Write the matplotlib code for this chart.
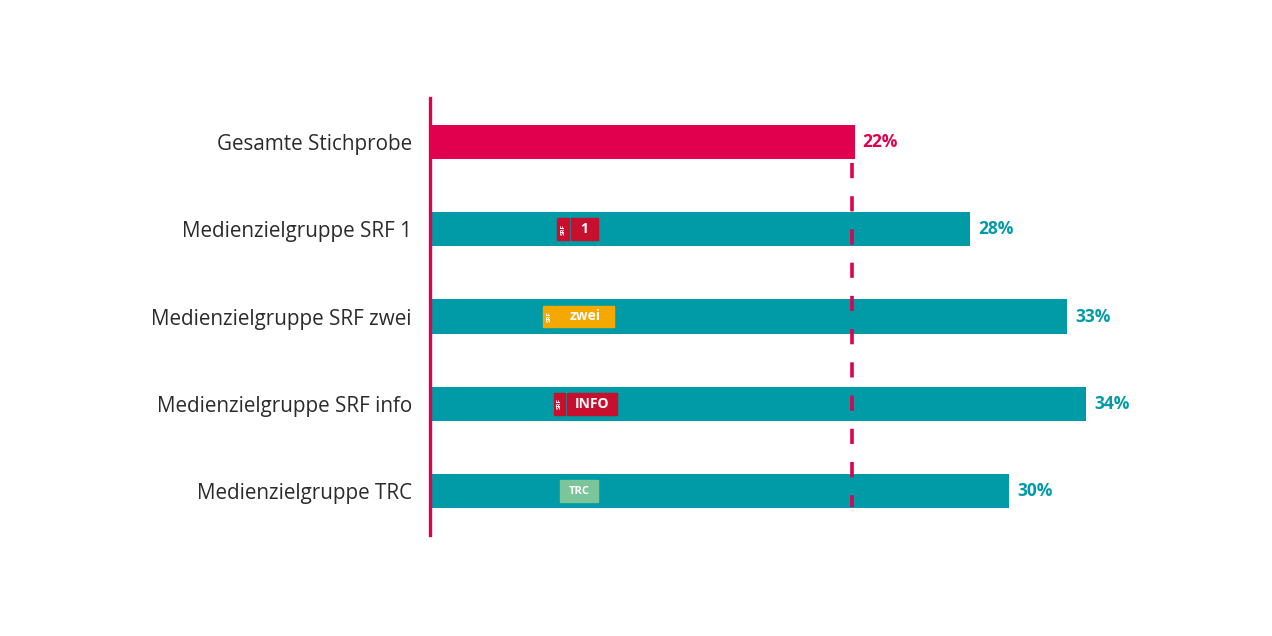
import matplotlib.pyplot as plt
from matplotlib.patches import Rectangle

# data
categories = ["Gesamte Stichprobe", "Medienzielgruppe SRF 1", "Medienzielgruppe SRF zwei",
              "Medienzielgruppe SRF info", "Medienzielgruppe TRC"]
values = [22, 28, 33, 34, 30]
reference = 22

# logo decorations (name, start %, width %, colour)
logo_names = [None, "1", "zwei", "INFO", "TRC"]
logo_start = [None, 6.6, 5.85, 6.4, 6.75]
logo_width = [None, 2.1, 3.7, 3.3, 1.95]
logo_colors = [None, "#c8102e", "#f5a800", "#c8102e", "#7cc49a"]

RED = "#e0004d"
TEAL = "#009ba6"
TEXT = "#2b2b2b"

plt.rcParams['font.family'] = ['Open Sans', 'DejaVu Sans']

fig = plt.figure(figsize=(12.72, 6.36), dpi=100)
ax = fig.add_axes([430 / 1272, 1 - 535 / 636, 772 / 1272, 437 / 636])

ypos = list(range(len(categories)))
colors = [RED] + [TEAL] * (len(categories) - 1)
ax.barh(ypos, values, height=0.39, color=colors, zorder=2)

for y, v, c in zip(ypos, values, colors):
    ax.text(v + 0.42, y, f"{v}%", va="center", ha="left", color=c,
            fontsize=12.5, fontweight="bold")

# dashed reference line
ax.plot([reference - 0.15, reference - 0.15], [0.24, 4.18], color=RED, lw=2.6,
        dashes=(4.2, 5.0), zorder=3, solid_capstyle="butt")

# logos
for y, name, x0, w, col in zip(ypos, logo_names, logo_start, logo_width, logo_colors):
    if name is None:
        continue
    h = 0.25
    small = 0.62
    if name == "TRC":
        ax.add_patch(Rectangle((x0, y - h / 2), w, h, color=col, zorder=4))
        ax.text(x0 + w / 2, y, name, color="white", fontsize=8, fontweight="bold",
                ha="center", va="center", zorder=5)
        continue
    ax.add_patch(Rectangle((x0, y - h / 2), small, h, color=col, zorder=4))
    ax.text(x0 + small / 2, y, "SRF", color="white", fontsize=4.5, fontweight="bold",
            rotation=90, ha="center", va="center", zorder=5)
    ax.add_patch(Rectangle((x0 + small + 0.08, y - h / 2), w - small - 0.08, h,
                           color=col, zorder=4))
    ax.text(x0 + small + 0.08 + (w - small - 0.08) / 2, y, name, color="white",
            fontsize=10, fontweight="bold", ha="center", va="center", zorder=5)

ax.set_xlim(0, 40)
ax.set_ylim(4.5, -0.5)
ax.set_yticks(ypos)
ax.set_yticklabels(categories, fontsize=14.9, color=TEXT)
ax.tick_params(axis="y", length=0, pad=13)
ax.set_xticks([])
for s in ["top", "right", "bottom"]:
    ax.spines[s].set_visible(False)
ax.spines["left"].set_color(RED)
ax.spines["left"].set_linewidth(2.4)
ax.spines["left"].set_zorder(6)

fig.savefig("out.png", dpi=100)
